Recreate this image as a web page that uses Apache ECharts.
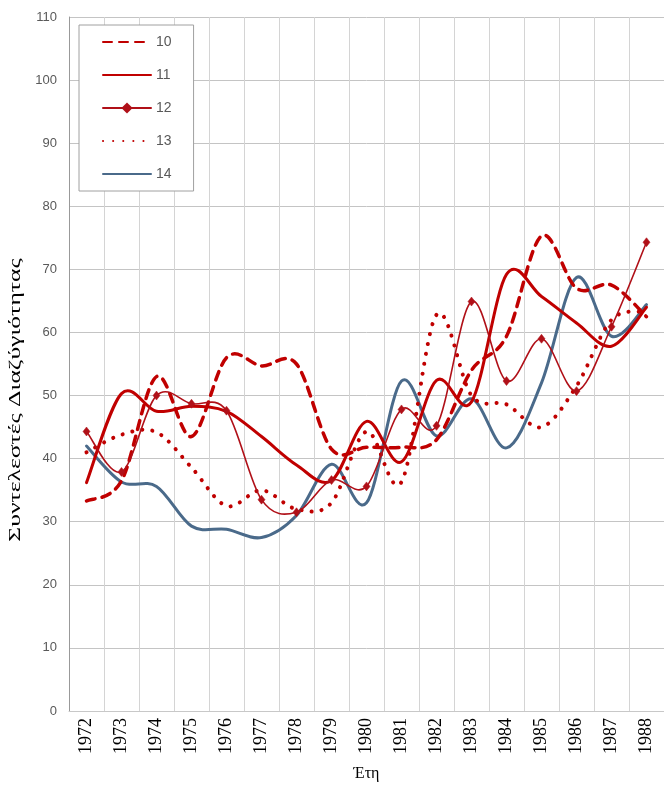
<!DOCTYPE html>
<html>
<head>
<meta charset="utf-8">
<script src="https://cdn.jsdelivr.net/npm/echarts@6/dist/echarts.min.js"></script>
<style>
html,body{margin:0;padding:0;background:#fff;}
#c{width:664px;height:787px;}
</style>
</head>
<body>
<div id="c"></div>
<script>
var years = ['1972','1973','1974','1975','1976','1977','1978','1979','1980','1981','1982','1983','1984','1985','1986','1987','1988'];
var s10 = [33.3, 36.5, 53, 43.5, 56, 54.7, 55, 41.5, 41.8, 41.8, 43, 54, 59.4, 75.3, 67, 67.5, 62.5];
var s11 = [36.2, 50.3, 47.5, 48.3, 47.5, 43.5, 39, 36.5, 45.9, 39.5, 52.4, 49, 69.2, 65.7, 61.5, 57.8, 64];
var s12 = [44.3, 37.9, 50, 48.7, 47.6, 33.5, 31.5, 36.6, 35.6, 47.8, 45.2, 64.9, 52.3, 59, 50.7, 60.9, 74.3];
var s13 = [41, 43.8, 44.2, 38.6, 32.5, 35, 32, 33, 44.3, 36.3, 62.8, 50, 48.6, 45, 51.5, 62, 63.3];
var s14 = [42, 36.3, 35.6, 29.3, 28.8, 27.5, 31, 39.1, 33, 52.3, 43.6, 49.5, 41.7, 52, 68.7, 59.4, 64.4];
var seriesNames = ['10','11','12','13','14'];
var yTicks = {min: 0, max: 110, interval: 10};
var yTitle = 'Συντελεστές Διαζύγιότητας';
var xTitle = 'Έτη';

var RED = '#c00000', RED2 = '#b01018', BLUE = '#4a6a8a';
var styles = {
  '10': {color: RED, width: 3.5, dash: [9, 7]},
  '11': {color: RED, width: 3, dash: null},
  '12': {color: RED2, width: 1.6, dash: null, marker: true},
  '13': {color: RED, width: 4, dash: [0.1, 10]},
  '14': {color: BLUE, width: 3, dash: null}
};
var seriesData = {'10': s10, '11': s11, '12': s12, '13': s13, '14': s14};

// Smooth (Catmull-Rom style) curve through the data points, positioned by the chart's own axes.
function makeRender(st) {
  return function (params, api) {
    var i = params.dataIndexInside;
    var n = params.dataInsideLength;
    var children = [];
    if (i === 0) {
      var pts = [];
      for (var j = 0; j < n; j++) pts.push(api.coord([api.value(0, j), api.value(1, j)]));
      var d = 'M' + pts[0][0] + ' ' + pts[0][1];
      var k = 1 / 6;
      for (var s = 0; s < n - 1; s++) {
        var p0 = pts[Math.max(0, s - 1)], p1 = pts[s], p2 = pts[s + 1], p3 = pts[Math.min(n - 1, s + 2)];
        d += ' C' + (p1[0] + (p2[0] - p0[0]) * k) + ' ' + (p1[1] + (p2[1] - p0[1]) * k) + ' ' +
             (p2[0] - (p3[0] - p1[0]) * k) + ' ' + (p2[1] - (p3[1] - p1[1]) * k) + ' ' + p2[0] + ' ' + p2[1];
      }
      children.push({
        type: 'path', shape: {pathData: d},
        style: {fill: null, stroke: st.color, lineWidth: st.width, lineDash: st.dash, lineCap: 'round', lineJoin: 'round'}
      });
    }
    if (st.marker) {
      var c = api.coord([api.value(0), api.value(1)]);
      children.push({
        type: 'path', x: c[0], y: c[1], z2: 10,
        shape: {pathData: 'M0 -4.5 L3.5 0 L0 4.5 L-3.5 0 Z'},
        style: {fill: st.color, stroke: st.color, lineWidth: 0.5}
      });
    }
    return {type: 'group', children: children};
  };
}

var series = [];
// legend-icon carriers (first series with each name)
seriesNames.forEach(function (nm) {
  var st = styles[nm];
  series.push({
    name: nm, type: 'line', data: [],
    symbol: st.marker ? 'diamond' : 'none', symbolSize: 9,
    lineStyle: {color: st.color, width: st.width, type: st.dash ? st.dash : 'solid', cap: 'round'},
    itemStyle: {color: st.color}
  });
});
seriesNames.forEach(function (nm, idx) {
  var st = styles[nm];
  series.push({
    name: nm, type: 'custom',
    data: seriesData[nm].map(function (v, i) { return [i, v]; }),
    encode: {x: 0, y: 1},
    z: nm === '14' ? 2 : 3 + (nm === '12' ? 1 : 0),
    renderItem: makeRender(st)
  });
});

var chart = echarts.init(document.getElementById('c'));
chart.setOption({
  animation: false,
  backgroundColor: '#fff',
  grid: {left: 69, right: 0, top: 17, bottom: 75, containLabel: false},
  legend: {
    data: seriesNames.map(function (nm) {
      return styles[nm].marker ? {name: nm} : {name: nm, itemStyle: {opacity: 0}};
    }),
    orient: 'vertical',
    left: 79, top: 25,
    itemWidth: 48, itemHeight: 14, itemGap: 19,
    padding: [10, 22, 10, 23],
    borderColor: '#a0a0a0', borderWidth: 1,
    backgroundColor: '#fff',
    textStyle: {color: '#595959', fontSize: 14, fontFamily: 'Liberation Sans'}
  },
  graphic: [{
    type: 'text', x: 16, y: 400, rotation: Math.PI / 2, scaleX: 1.6,
    style: {text: yTitle, font: '16px "Liberation Serif"', fill: '#000', align: 'center', verticalAlign: 'middle'}
  }],
  xAxis: {
    type: 'category',
    data: years,
    boundaryGap: true,
    name: xTitle,
    nameLocation: 'middle',
    nameGap: 55,
    nameTextStyle: {color: '#000', fontSize: 16, fontFamily: 'Liberation Serif'},
    axisLine: {show: true, lineStyle: {color: '#c8c8c8'}},
    axisTick: {show: false},
    axisLabel: {rotate: 90, color: '#000', fontSize: 18, fontFamily: 'Liberation Serif', margin: 7},
    splitLine: {show: true, lineStyle: {color: '#d4d4d4', width: 1}}
  },
  yAxis: {
    type: 'value',
    min: yTicks.min, max: yTicks.max, interval: yTicks.interval,
    axisLine: {show: true, lineStyle: {color: '#999'}},
    axisTick: {show: false},
    axisLabel: {color: '#595959', fontSize: 13, fontFamily: 'Liberation Sans', margin: 12},
    splitLine: {show: true, lineStyle: {color: '#c4c4c4', width: 1}}
  },
  series: series
});
</script>
</body>
</html>
